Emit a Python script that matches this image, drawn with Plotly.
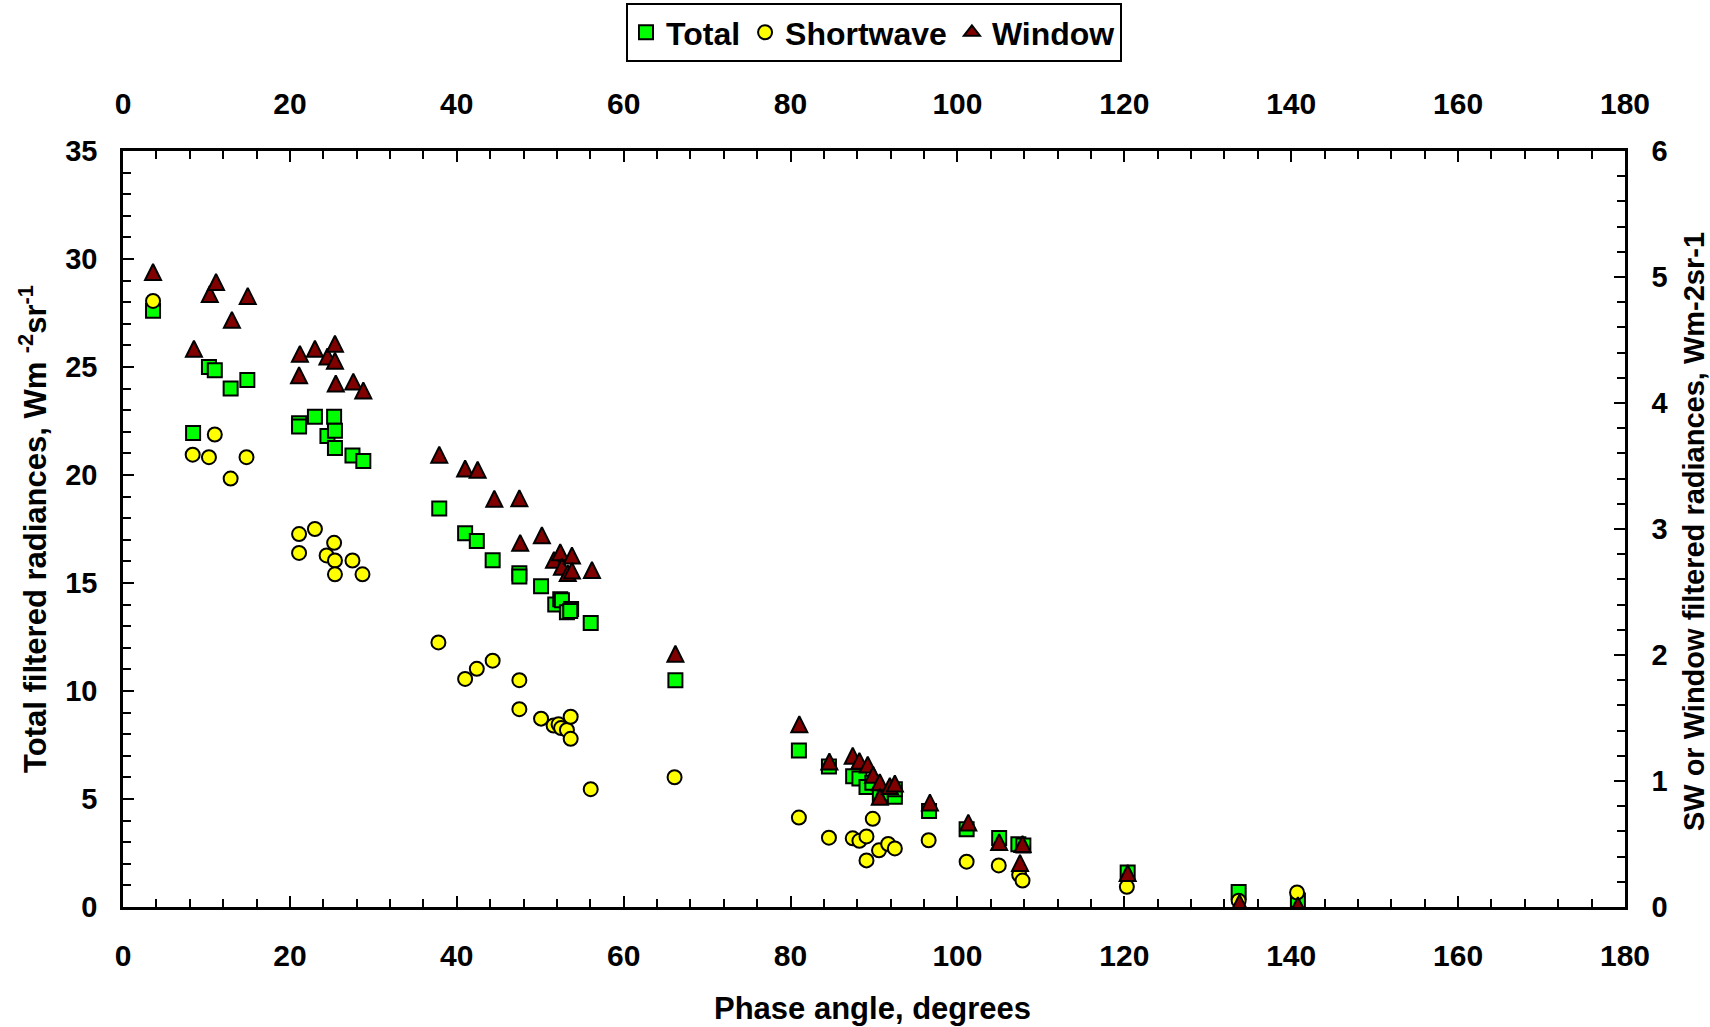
import plotly.graph_objects as go

# Phase angle (degrees) and radiances
tot_x = [3.6, 8.4, 10.3, 11.0, 12.9, 14.9, 21.1, 21.1, 23.0, 24.5, 25.3, 25.4, 25.4, 27.5, 28.8,
         37.9, 41.0, 42.4, 44.3, 47.5, 47.5, 50.1, 51.8, 52.4, 52.6, 53.2, 53.7, 53.6, 56.05, 66.2,
         81.0, 84.6, 87.5, 88.25, 89.1, 89.8, 90.7, 91.3, 92.5, 92.5, 96.6, 101.1, 105.0, 107.3, 107.9,
         120.4, 133.7, 140.8]
tot_y = [27.6, 21.95, 25.0, 24.85, 24.0, 24.4, 22.4, 22.25, 22.7, 21.8, 22.7, 22.05, 21.25, 20.9, 20.65,
         18.45, 17.3, 16.95, 16.05, 15.45, 15.3, 14.85, 14.0, 14.25, 14.2, 13.65, 13.8, 13.7, 13.15, 10.5,
         7.25, 6.5, 6.05, 5.95, 5.55, 5.75, 5.1, 5.25, 5.1, 5.45, 4.45, 3.6, 3.2, 2.9, 2.85,
         1.6, 0.7, 0.3]

sw_x = [3.6, 8.35, 10.3, 11.0, 12.9, 14.8, 21.1, 21.1, 23.0, 24.4, 25.3, 25.4, 25.4, 27.5, 28.7,
        37.8, 41.0, 42.4, 44.3, 47.5, 47.5, 50.1, 51.6, 52.2, 52.5, 53.2, 53.65, 53.65, 56.05, 66.1,
        81.0, 84.6, 87.45, 88.25, 89.1, 89.85, 89.1, 90.6, 91.7, 92.5, 96.55, 101.1, 104.95, 107.4, 107.8,
        120.3, 133.7, 140.7]
sw_y = [4.81, 3.59, 3.57, 3.75, 3.40, 3.57, 2.96, 2.81, 3.00, 2.79, 2.89, 2.75, 2.64, 2.75, 2.64,
        2.10, 1.81, 1.89, 1.955, 1.80, 1.57, 1.495, 1.44, 1.45, 1.42, 1.405, 1.51, 1.335, 0.935, 1.03,
        0.71, 0.55, 0.545, 0.525, 0.56, 0.70, 0.37, 0.45, 0.50, 0.465, 0.53, 0.36, 0.33, 0.255, 0.21,
        0.16, 0.05, 0.115]

win_x = [3.6, 8.5, 10.4, 11.15, 13.05, 14.95, 21.2, 21.1, 23.0, 24.5, 25.4, 25.4, 25.5, 27.6, 28.8,
         37.9, 41.0, 42.5, 44.5, 47.5, 47.6, 50.2, 51.65, 52.4, 52.6, 53.3, 53.8, 53.8, 56.2, 66.2,
         81.05, 84.65, 87.45, 88.25, 89.25, 89.9, 90.7, 90.7, 91.9, 92.5, 96.7, 101.3, 105.0, 107.8, 107.5,
         120.4, 133.8, 140.8]
win_y = [5.04, 4.43, 4.865, 4.96, 4.66, 4.85, 4.39, 4.22, 4.43, 4.37, 4.47, 4.335, 4.155, 4.17, 4.10,
         3.59, 3.48, 3.47, 3.24, 3.245, 2.89, 2.95, 2.755, 2.815, 2.70, 2.65, 2.79, 2.67, 2.675, 2.01,
         1.45, 1.155, 1.20, 1.16, 1.13, 1.05, 0.99, 0.875, 0.96, 0.98, 0.83, 0.67, 0.515, 0.50, 0.35,
         0.27, 0.035, 0.015]

x_ticks = [0, 20, 40, 60, 80, 100, 120, 140, 160, 180]

FONT = "Liberation Sans, Arial, Helvetica, sans-serif"
xtickfont = dict(family=FONT, size=30, color="black", weight="bold")
ytickfont = dict(family=FONT, size=29, color="black", weight="bold")

LINE = dict(color="black", width=2)

fig = go.Figure()
fig.add_trace(go.Scatter(
    x=tot_x, y=tot_y, mode="markers", name="Total", xaxis="x", yaxis="y",
    marker=dict(symbol="square", size=14, color="#00FF00", line=LINE)))
fig.add_trace(go.Scatter(
    x=sw_x, y=sw_y, mode="markers", name="Shortwave", xaxis="x", yaxis="y2",
    marker=dict(symbol="circle", size=14, color="#FFFF00", line=LINE)))
# legend entry for Window (plain triangle symbol, no data)
fig.add_trace(go.Scatter(
    x=[None], y=[None], mode="markers", name="Window", xaxis="x2", yaxis="y2",
    legendgroup="win",
    marker=dict(symbol="triangle-up", size=14, color="#800000", line=LINE)))
fig.add_trace(go.Scatter(
    x=win_x, y=win_y, mode="markers", name="Window", xaxis="x2", yaxis="y2",
    legendgroup="win", showlegend=False,
    marker=dict(symbol="arrow-down", angle=180, standoff=8, size=16, color="#800000",
                line=LINE)))

axis_common = dict(showline=True, linecolor="black", linewidth=2.5, mirror=False,
                   showgrid=False, zeroline=False, ticks="inside", tickcolor="black",
                   tickwidth=2, ticklen=11)
minor_common = dict(ticks="inside", ticklen=8, tickwidth=2, tickcolor="black")

fig.update_layout(
    width=1710, height=1027,
    margin=dict(l=123, r=85, t=151, b=120, autoexpand=False),
    paper_bgcolor="white", plot_bgcolor="white",
    font=dict(family=FONT, color="black"),
    xaxis=dict(range=[0, 180], tickvals=x_ticks, anchor="y", side="bottom",
               minor=dict(dtick=4, **minor_common), tickfont=xtickfont,
               ticklabelstandoff=20, **axis_common),
    xaxis2=dict(range=[0, 180], tickvals=x_ticks, anchor="y", side="top", overlaying="x",
                matches="x", minor=dict(dtick=4, **minor_common), tickfont=xtickfont,
                ticklabelstandoff=22, **axis_common),
    yaxis=dict(range=[0, 35], dtick=5, anchor="x", side="left",
               minor=dict(dtick=1, **minor_common), tickfont=ytickfont,
               ticklabelstandoff=17, **axis_common),
    yaxis2=dict(range=[0, 6], dtick=1, anchor="x", side="right", overlaying="y",
                minor=dict(dtick=0.2, **minor_common), tickfont=ytickfont,
                ticklabelstandoff=18, **axis_common),
    legend=dict(orientation="h", x=0.5, xanchor="center", y=1.1958, yanchor="top",
                bgcolor="white", bordercolor="black", borderwidth=2,
                font=dict(family=FONT, size=32, color="black", weight="bold"),
                itemwidth=30, tracegroupgap=0),
    showlegend=True,
)

title_font = dict(family=FONT, size=31, color="black", weight="bold")
fig.add_annotation(text="Total filtered radiances, Wm <sup>-2</sup>sr<sup>-1</sup>",
                   xref="paper", yref="paper", x=-0.06, y=0.5, xanchor="center", yanchor="middle",
                   textangle=-90, showarrow=False, font=title_font)
fig.add_annotation(text="SW or Window filtered radiances, Wm-2sr-1",
                   xref="paper", yref="paper", x=1.046, y=0.496, xanchor="center", yanchor="middle",
                   textangle=-90, showarrow=False, font=dict(family=FONT, size=29, color="black", weight="bold"))
fig.add_annotation(text="Phase angle, degrees",
                   xref="paper", yref="paper", x=0.499, y=-0.1336, xanchor="center", yanchor="middle",
                   showarrow=False, font=title_font)

fig.write_html("out.html", config={"displayModeBar": False},
               post_script="document.body.style.margin='0';document.body.style.overflow='hidden';")
